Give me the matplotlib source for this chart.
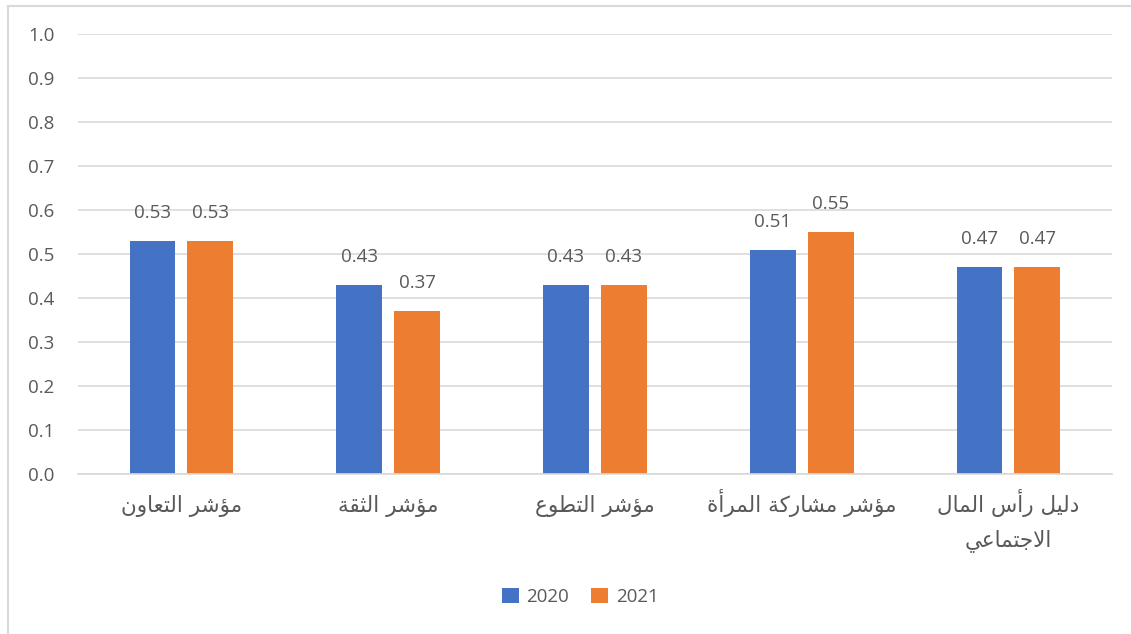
import matplotlib
matplotlib.use("Agg")
from matplotlib import pyplot as plt
from matplotlib.lines import Line2D
from matplotlib.patches import Patch
import numpy as np

categories = ["مؤشر التعاون", "مؤشر الثقة", "مؤشر التطوع", "مؤشر مشاركة المرأة", "دليل رأس المال\nالاجتماعي"]
years = ["2020", "2021"]
values_2020 = [0.53, 0.43, 0.43, 0.51, 0.47]
values_2021 = [0.53, 0.37, 0.43, 0.55, 0.47]
y_ticks = [0.0, 0.1, 0.2, 0.3, 0.4, 0.5, 0.6, 0.7, 0.8, 0.9, 1.0]

# matplotlib has no Arabic shaping, so pick presentation forms by hand
# (isolated, final, initial, medial); two-form letters only join to the right
FORMS = {
    "ا": ("\uFE8D", "\uFE8E"),
    "أ": ("\uFE83", "\uFE84"),
    "ؤ": ("\uFE85", "\uFE86"),
    "ة": ("\uFE93", "\uFE94"),
    "ت": ("\uFE95", "\uFE96", "\uFE97", "\uFE98"),
    "ث": ("\uFE99", "\uFE9A", "\uFE9B", "\uFE9C"),
    "ج": ("\uFE9D", "\uFE9E", "\uFE9F", "\uFEA0"),
    "د": ("\uFEA9", "\uFEAA"),
    "ر": ("\uFEAD", "\uFEAE"),
    "س": ("\uFEB1", "\uFEB2", "\uFEB3", "\uFEB4"),
    "ش": ("\uFEB5", "\uFEB6", "\uFEB7", "\uFEB8"),
    "ط": ("\uFEC1", "\uFEC2", "\uFEC3", "\uFEC4"),
    "ع": ("\uFEC9", "\uFECA", "\uFECB", "\uFECC"),
    "ق": ("\uFED5", "\uFED6", "\uFED7", "\uFED8"),
    "ك": ("\uFED9", "\uFEDA", "\uFEDB", "\uFEDC"),
    "ل": ("\uFEDD", "\uFEDE", "\uFEDF", "\uFEE0"),
    "م": ("\uFEE1", "\uFEE2", "\uFEE3", "\uFEE4"),
    "ن": ("\uFEE5", "\uFEE6", "\uFEE7", "\uFEE8"),
    "و": ("\uFEED", "\uFEEE"),
    "ي": ("\uFEF1", "\uFEF2", "\uFEF3", "\uFEF4"),
}
LAM_ALEF = {"ا": ("\uFEFB", "\uFEFC"), "أ": ("\uFEF7", "\uFEF8")}


def shape_line(text):
    chars = list(text)
    n = len(chars)
    out = []

    def joins_prev(k):
        return k > 0 and chars[k] in FORMS and chars[k - 1] in FORMS and len(FORMS[chars[k - 1]]) == 4

    i = 0
    while i < n:
        c = chars[i]
        if c not in FORMS:
            out.append(c)
            i += 1
            continue
        if c == "ل" and i + 1 < n and chars[i + 1] in LAM_ALEF:
            iso, fin = LAM_ALEF[chars[i + 1]]
            out.append(fin if joins_prev(i) else iso)
            i += 2
            continue
        f = FORMS[c]
        prev = joins_prev(i)
        nxt = len(f) == 4 and i + 1 < n and chars[i + 1] in FORMS
        if prev and nxt:
            out.append(f[3])
        elif prev:
            out.append(f[1])
        elif nxt:
            out.append(f[2])
        else:
            out.append(f[0])
        i += 1
    return "".join(out)[::-1]


blue = "#4472C4"
orange = "#ED7D31"
grid_c = "#D9D9D9"
text_c = "#595959"
num_font = ["Open Sans", "DejaVu Sans"]
ar_font = ["DejaVu Sans"]

fig = plt.figure(figsize=(11.31, 6.34), dpi=100)
ax = fig.add_axes([0.069, 0.2524, 0.914, 0.694])

x = np.arange(len(categories))
w = 0.222
off = 0.14
b1 = ax.bar(x - off, values_2020, w, color=blue, zorder=3)
b2 = ax.bar(x + off, values_2021, w, color=orange, zorder=3)

for bars, vals in ((b1, values_2020), (b2, values_2021)):
    for rect, v in zip(bars, vals):
        ax.annotate(f"{v:.2f}", (rect.get_x() + rect.get_width() / 2, v),
                    xytext=(0, 16.5), textcoords="offset points",
                    ha="center", va="baseline", fontsize=13.5,
                    color=text_c, family=num_font)

ax.set_xlim(-0.5, len(categories) - 0.5)
ax.set_ylim(0, 1.0)
ax.set_yticks(y_ticks)
ax.set_yticklabels([f"{t:.1f}" for t in y_ticks], family=num_font, fontsize=13.5, color=text_c)
ax.set_xticks(x)
ax.set_xticklabels([])
ax.tick_params(axis="y", length=0, pad=17)
ax.tick_params(axis="x", length=0)

# category names, one baseline per line so all labels sit level
for xi, cat in zip(x, categories):
    for j, line in enumerate(cat.split("\n")):
        ax.annotate(shape_line(line), (xi, 0), xycoords=("data", "axes fraction"),
                    xytext=(0, -27.5 - 24.5 * j), textcoords="offset points",
                    ha="center", va="baseline", fontsize=15.5,
                    color=text_c, family=ar_font)

ax.yaxis.grid(True, color=grid_c, linewidth=1.2, zorder=0)
for side in ("top", "right", "left"):
    ax.spines[side].set_visible(False)
ax.spines["bottom"].set_color(grid_c)
ax.spines["bottom"].set_linewidth(1.2)
ax.spines["bottom"].set_zorder(4)

handles = [Patch(facecolor=blue), Patch(facecolor=orange)]
leg = fig.legend(handles, years, loc="center", bbox_to_anchor=(0.513, 1 - 597 / 634),
                 ncol=2, frameon=False, handlelength=0.9, handleheight=0.9,
                 handletextpad=0.4, columnspacing=1.2,
                 prop={"family": num_font, "size": 13.5})
for t in leg.get_texts():
    t.set_color(text_c)

# outer chart frame, left and top edges
fig.add_artist(Line2D([7.5 / 1131, 7.5 / 1131], [0, 1 - 6 / 634], color=grid_c,
                      linewidth=1.5, transform=fig.transFigure))
fig.add_artist(Line2D([7.5 / 1131, 1], [1 - 6 / 634, 1 - 6 / 634], color=grid_c,
                      linewidth=1.5, transform=fig.transFigure))

fig.savefig("out.png", dpi=100, facecolor="white")
